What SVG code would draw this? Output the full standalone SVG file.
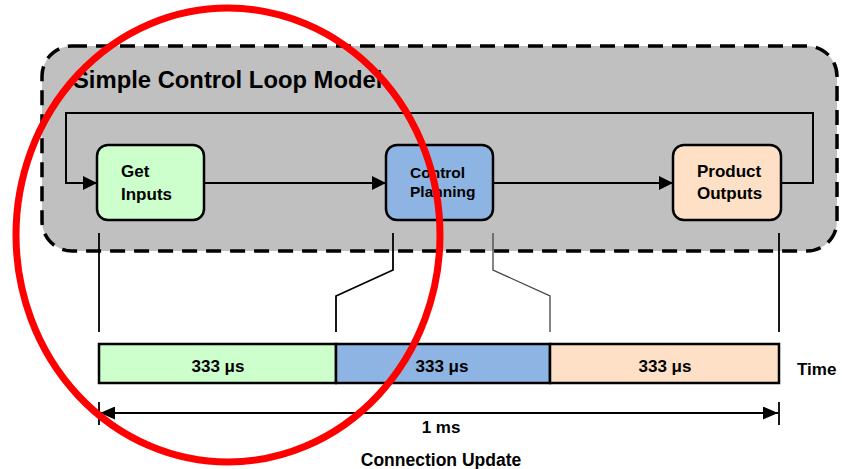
<svg xmlns="http://www.w3.org/2000/svg" width="842" height="469" viewBox="0 0 842 469">
  <defs>
    <marker id="arrow" viewBox="0 0 14 14" refX="14" refY="7" markerWidth="14" markerHeight="14" markerUnits="userSpaceOnUse" orient="auto">
      <path d="M0,0 L14,7 L0,14 Z" fill="#000"/>
    </marker>
    <marker id="dimArrow" viewBox="0 0 15 13" refX="15" refY="6.5" markerWidth="15" markerHeight="13" markerUnits="userSpaceOnUse" orient="auto-start-reverse">
      <path d="M0,0 L15,6.5 L0,13 Z" fill="#000"/>
    </marker>
    <style>
      text { font-family: "Liberation Sans", Arial, sans-serif; font-weight: bold; fill: #000; }
      .box { stroke: #000; stroke-width: 2.5; }
      .flow { fill: none; stroke: #000; stroke-width: 2; }
      .tick { fill: none; stroke: #000; stroke-width: 1.8; }
      .lbl { font-size: 17px; }
      .mid { text-anchor: middle; }
    </style>
  </defs>

  <rect width="842" height="469" fill="#fff"/>

  <!-- control loop container -->
  <g id="loop-frame">
    <rect x="42" y="46" width="795" height="205" rx="30" ry="30" fill="#c0c0c0" stroke="#000" stroke-width="3.5" stroke-dasharray="15 9"/>
    <text x="73" y="88" font-size="23.8">Simple Control Loop Model</text>
  </g>

  <!-- connectors -->
  <g id="connectors">
    <path class="flow" d="M781,183 H813 V113 H66 V183 H97" marker-end="url(#arrow)"/>
    <path class="flow" d="M204,183 H386" marker-end="url(#arrow)"/>
    <path class="flow" d="M493,183 H673" marker-end="url(#arrow)"/>
    <!-- projection of the loop stages onto the time bar -->
    <path class="tick" d="M99,233 V332"/>
    <path class="tick" d="M393,233 V270 L336,296 V332"/>
    <path d="M493,233 V270 L550,296 V332" fill="none" stroke="#444" stroke-width="1.3"/>
    <path class="tick" d="M779,233 V332"/>
  </g>

  <g id="get-inputs">
    <rect class="box" x="97" y="145" width="107" height="75" rx="11" fill="#ccffcc"/>
    <text class="lbl" x="121" y="177">Get</text>
    <text class="lbl" x="121" y="200">Inputs</text>
  </g>

  <g id="control-planning">
    <rect class="box" x="386" y="145" width="107" height="75" rx="11" fill="#8db4e2"/>
    <text x="410" y="178" font-size="15.5">Control</text>
    <text x="410" y="197" font-size="15.5">Planning</text>
  </g>

  <g id="product-outputs">
    <rect class="box" x="673" y="145" width="108" height="75" rx="11" fill="#fde0c6"/>
    <text class="lbl" x="697" y="177">Product</text>
    <text class="lbl" x="697" y="199">Outputs</text>
  </g>

  <!-- time bar -->
  <g id="time-bar">
    <rect class="box" x="99" y="344" width="237" height="39" fill="#ccffcc"/>
    <rect class="box" x="336" y="344" width="214" height="39" fill="#8db4e2"/>
    <rect class="box" x="550" y="344" width="229" height="39" fill="#fde0c6"/>
    <text class="lbl mid" x="218" y="372">333 μs</text>
    <text class="lbl mid" x="442" y="372">333 μs</text>
    <text class="lbl mid" x="665" y="372">333 μs</text>
    <text class="lbl" x="797" y="375">Time</text>
  </g>

  <!-- period dimension -->
  <g id="period">
    <path class="tick" d="M99,402 V425 M779,402 V425"/>
    <path d="M100,413 H778" fill="none" stroke="#000" stroke-width="2" marker-start="url(#dimArrow)" marker-end="url(#dimArrow)"/>
    <text class="lbl mid" x="441" y="433">1 ms</text>
    <text class="mid" x="441" y="466" font-size="17.5">Connection Update</text>
  </g>

  <!-- highlight ring -->
  <g id="highlight">
    <ellipse cx="228" cy="235" rx="212" ry="227" fill="none" stroke="#ff0000" stroke-width="7"/>
  </g>
</svg>
